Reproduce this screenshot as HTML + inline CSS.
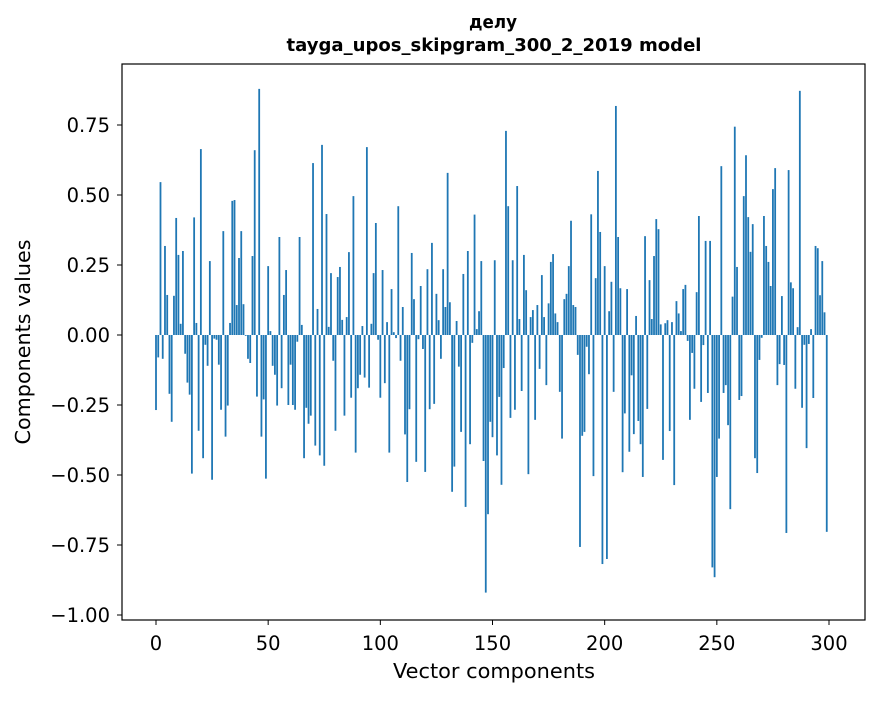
<!DOCTYPE html>
<html><head><meta charset="utf-8"><style>
body{margin:0;background:#fff;}
svg text{font-family:"DejaVu Sans","Liberation Sans",sans-serif;fill:#000;}
</style></head><body>
<svg id="chart" width="880" height="696" xmlns="http://www.w3.org/2000/svg">
<rect width="880" height="696" fill="#fff"/>
<text x="493" y="28" font-size="17.5" font-weight="bold" text-anchor="middle" textLength="48" lengthAdjust="spacingAndGlyphs">делу</text>
<text x="494" y="51" font-size="17.5" font-weight="bold" text-anchor="middle" textLength="415" lengthAdjust="spacingAndGlyphs">tayga_upos_skipgram_300_2_2019 model</text>
<g id="bars"></g>
<g id="xticks"></g>
<g id="yticks"></g>
<rect x="122" y="64" width="743" height="556" fill="none" stroke="#000" stroke-width="1.2"/>
<text x="494" y="678" font-size="20" text-anchor="middle" textLength="202" lengthAdjust="spacingAndGlyphs">Vector components</text>
<text transform="translate(30,342) rotate(-90)" font-size="20" text-anchor="middle" textLength="205" lengthAdjust="spacingAndGlyphs">Components values</text>
</svg>
<script>
const values = [
-0.268,-0.08,0.546,-0.085,0.318,0.143,-0.21,-0.31,0.14,0.418,
0.286,0.04,0.30,-0.067,-0.17,-0.213,-0.495,0.42,0.043,-0.342,
0.664,-0.44,-0.035,-0.11,0.264,-0.517,-0.013,-0.017,-0.106,-0.267,
0.371,-0.363,-0.252,0.043,0.479,0.482,0.107,0.275,0.371,0.11,
-0.003,-0.085,-0.1,0.282,0.66,-0.22,0.879,-0.363,-0.23,-0.513,
0.246,0.014,-0.11,-0.142,-0.252,0.35,-0.19,0.143,0.232,-0.25,
-0.106,-0.25,-0.267,-0.024,0.35,0.036,-0.44,-0.26,-0.317,-0.288,
0.614,-0.395,0.093,-0.43,0.679,-0.467,0.432,0.029,0.221,-0.092,
-0.342,0.207,0.243,0.054,-0.288,0.064,0.296,-0.224,0.496,-0.42,
-0.19,-0.142,0.032,-0.152,0.671,-0.188,0.04,0.221,0.4,-0.017,
-0.224,0.232,-0.172,0.046,-0.42,0.164,0.01,-0.011,0.46,-0.092,
0.1,-0.355,-0.525,-0.265,0.293,0.128,-0.453,-0.015,0.175,-0.05,
-0.489,0.235,-0.265,0.329,-0.246,0.147,0.053,-0.085,0.235,0.1,
0.579,0.117,-0.56,-0.47,0.05,-0.113,-0.346,0.218,-0.614,0.3,
-0.39,-0.028,0.43,0.021,0.085,0.264,-0.45,-0.92,-0.64,-0.31,
-0.365,0.267,-0.43,-0.221,-0.535,-0.118,0.729,0.46,-0.296,0.267,
-0.267,0.532,0.057,-0.2,0.286,0.16,-0.497,0.064,0.089,-0.303,
0.107,-0.121,0.214,0.064,-0.179,0.113,0.261,0.289,0.077,0.046,
-0.203,-0.37,0.128,0.147,0.246,0.408,0.107,0.1,-0.071,-0.757,
-0.36,-0.346,-0.042,-0.14,0.431,-0.504,0.203,0.586,0.368,-0.818,
0.246,-0.8,0.085,0.19,-0.203,0.818,0.35,0.167,-0.49,-0.28,
0.164,-0.417,-0.144,-0.354,0.068,-0.307,-0.39,-0.507,0.353,-0.264,
0.196,0.057,0.282,0.414,0.378,0.038,-0.446,0.042,0.053,-0.343,
0.046,-0.536,0.121,0.077,0.014,0.164,0.179,-0.021,-0.303,-0.064,
-0.192,0.153,0.425,-0.239,-0.036,0.336,-0.207,0.336,-0.83,-0.865,
-0.507,-0.37,0.603,-0.207,-0.179,-0.322,-0.622,0.137,0.744,0.243,
-0.232,-0.218,0.496,0.642,0.421,0.297,0.396,-0.44,-0.493,-0.089,
-0.01,0.425,0.318,0.261,0.175,0.521,0.596,-0.179,-0.104,0.139,
-0.107,-0.707,0.589,0.188,0.167,-0.192,0.028,0.872,-0.26,-0.035,
-0.404,-0.032,0.021,-0.225,0.318,0.31,0.142,0.264,0.081,-0.703
];
const xTicks = [0,50,100,150,200,250,300];
const yTicks = [-1.00,-0.75,-0.50,-0.25,0.00,0.25,0.50,0.75];
const NS = "http://www.w3.org/2000/svg";
function xs(v){return 156 + v*(673/300);}
function ys(v){return 335 - v*280;}
const bars = document.getElementById('bars');
values.forEach(function(v,i){
  const r = document.createElementNS(NS,'rect');
  const w = 0.8*(673/300);
  r.setAttribute('x', xs(i)-w/2);
  r.setAttribute('y', Math.min(ys(v),ys(0)));
  r.setAttribute('width', w);
  r.setAttribute('height', Math.abs(ys(v)-ys(0)));
  r.setAttribute('fill', '#1f77b4');
  
  
  bars.appendChild(r);
});
const xg = document.getElementById('xticks');
xTicks.forEach(function(t){
  const l = document.createElementNS(NS,'line');
  l.setAttribute('x1',xs(t));l.setAttribute('x2',xs(t));
  l.setAttribute('y1',620);l.setAttribute('y2',625);
  l.setAttribute('stroke','#000');
  
  
  xg.appendChild(l);
  const tx = document.createElementNS(NS,'text');
  tx.setAttribute('x',xs(t));tx.setAttribute('y',650);
  tx.setAttribute('font-size','19.5');tx.setAttribute('text-anchor','middle');
  tx.textContent = t;
  
  
  xg.appendChild(tx);
});
const yg = document.getElementById('yticks');
yTicks.forEach(function(t){
  const l = document.createElementNS(NS,'line');
  l.setAttribute('x1',117);l.setAttribute('x2',122);
  l.setAttribute('y1',ys(t));l.setAttribute('y2',ys(t));
  l.setAttribute('stroke','#000');
  
  
  yg.appendChild(l);
  const tx = document.createElementNS(NS,'text');
  tx.setAttribute('x',110);tx.setAttribute('y',ys(t)+7);
  tx.setAttribute('font-size','19.5');tx.setAttribute('text-anchor','end');
  tx.textContent = (t<0?'\u2212':'') + Math.abs(t).toFixed(2);
  
  
  yg.appendChild(tx);
});
</script>
</body></html>
